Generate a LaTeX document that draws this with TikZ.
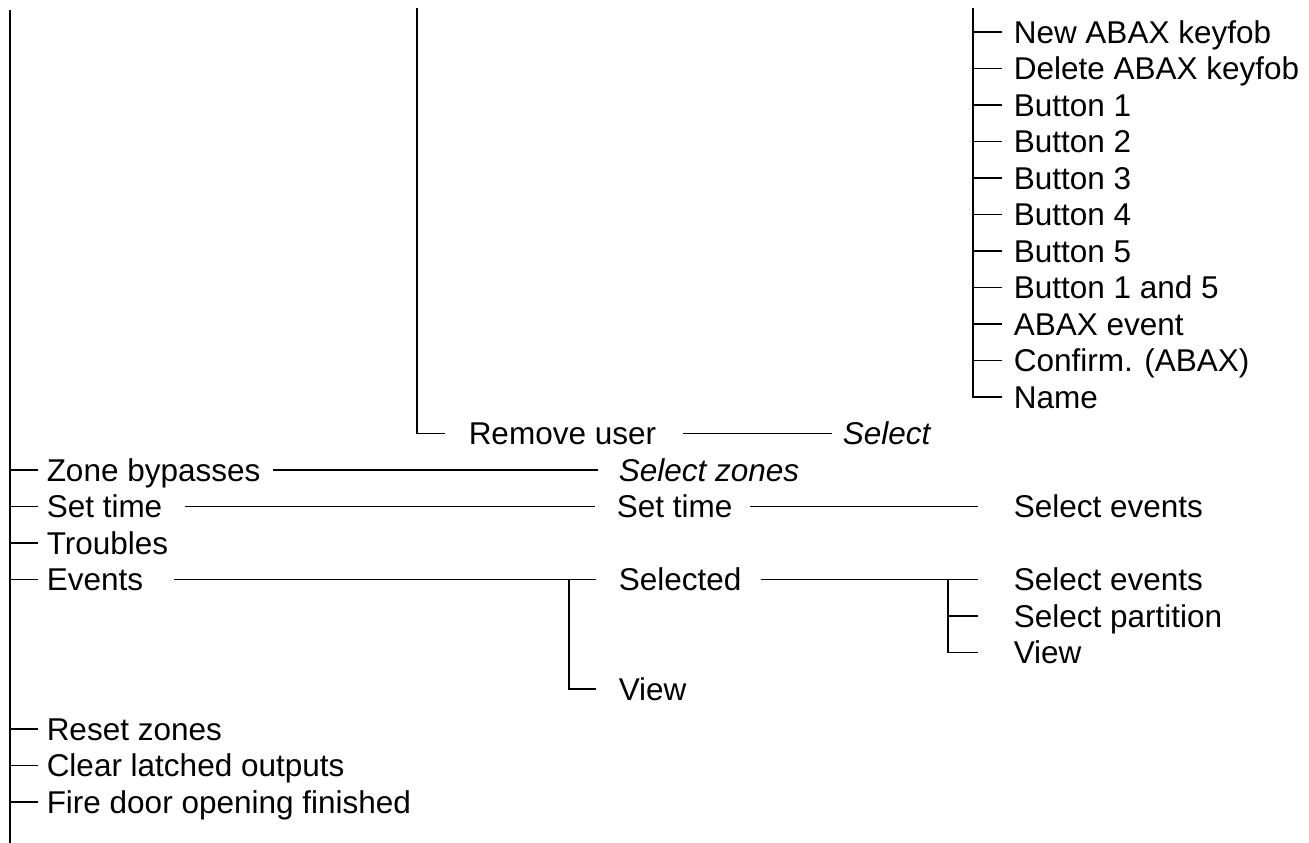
\documentclass[tikz,border=0pt]{standalone}
\usepackage{fontspec}
\setmainfont{Liberation Sans}
\usetikzlibrary{positioning}
\newcommand{\menufont}{\fontsize{31.5}{36}\selectfont}
\tikzset{
  item/.style={anchor=west,inner sep=0pt,text height=22.5pt,text depth=0pt,font=\menufont},
  pick/.style={item,font=\menufont\itshape},
}

\begin{document}
\begin{tikzpicture}[x=1pt,y=-1pt,line width=1.5pt]
\useasboundingbox (0,0) rectangle (1309,843);
\coordinate (t1) at (10,10);
\coordinate (b1) at (10,843);
\coordinate (t2) at (417,8);
\coordinate (t3) at (973,8);
% keyfob submenu
\foreach \t [count=\i from 0] in {New ABAX keyfob,Delete ABAX keyfob,Button 1,Button 2,Button 3,Button 4,Button 5,Button 1 and 5,ABAX event,Confirm. (ABAX),Name}
  \node[item] (k\i) at (1013,32+36.5*\i) {\t};
\foreach \i in {0,...,9}
  \draw (t3 |- k\i) -- ([xshift=-11pt]k\i.west);
\draw (t3) -- (t3 |- k10) -- ([xshift=-11pt]k10.west);
% remove user
\node[item] (rem) at (468,433.5) {Remove user};
\node[pick] (sel) at (842,433.5) {Select};
\draw (t2) -- (t2 |- rem) -- ([xshift=-23pt]rem.west);
\draw ([xshift=26pt]rem.east) -- ([xshift=-10pt]sel.west);
% main list
\node[item] (zone) at (46,470) {Zone bypasses};
\node[item] (st) at (46,506.5) {Set time};
\node[item] (trb) at (46,543) {Troubles};
\node[item] (ev) at (46,579.5) {Events};
\node[item] (rst) at (46,729) {Reset zones};
\node[item] (clr) at (46,765.5) {Clear latched outputs};
\node[item] (fire) at (46,802) {Fire door opening finished};
\draw (t1) -- (b1);
\foreach \n in {zone,st,trb,ev,rst,clr,fire}
  \draw (t1 |- \n) -- ([xshift=-8pt]\n.west);
% zone bypasses
\node[pick] (selz) at (618,470) {Select zones};
\draw ([xshift=12pt]zone.east) -- ([xshift=-20pt]selz.west);
% set time
\node[item] (st2) at (616,506.5) {Set time};
\node[item] (sev) at (1013,506.5) {Select events};
\draw ([xshift=22pt]st.east) -- ([xshift=-21pt]st2.west);
\draw ([xshift=17pt]st2.east) -- ([xshift=-35pt]sev.west);
% events
\node[item] (sd) at (618,579.5) {Selected};
\node[item] (vw) at (618,689) {View};
\draw ([xshift=30pt]ev.east) -- ([xshift=-22pt]sd.west);
\draw ([xshift=-49pt]sd.west) |- ([xshift=-22pt]vw.west);
\node[item] (sev2) at (1013,579.5) {Select events};
\node[item] (spt) at (1013,616) {Select partition};
\node[item] (vw2) at (1013,652.5) {View};
\draw ([xshift=19pt]sd.east) -- ([xshift=-35pt]sev2.west);
\draw ([xshift=-65pt]sev2.west) |- ([xshift=-35pt]vw2.west);
\draw ([xshift=-65pt]sev2.west |- spt) -- ([xshift=-35pt]spt.west);
\end{tikzpicture}
\end{document}
